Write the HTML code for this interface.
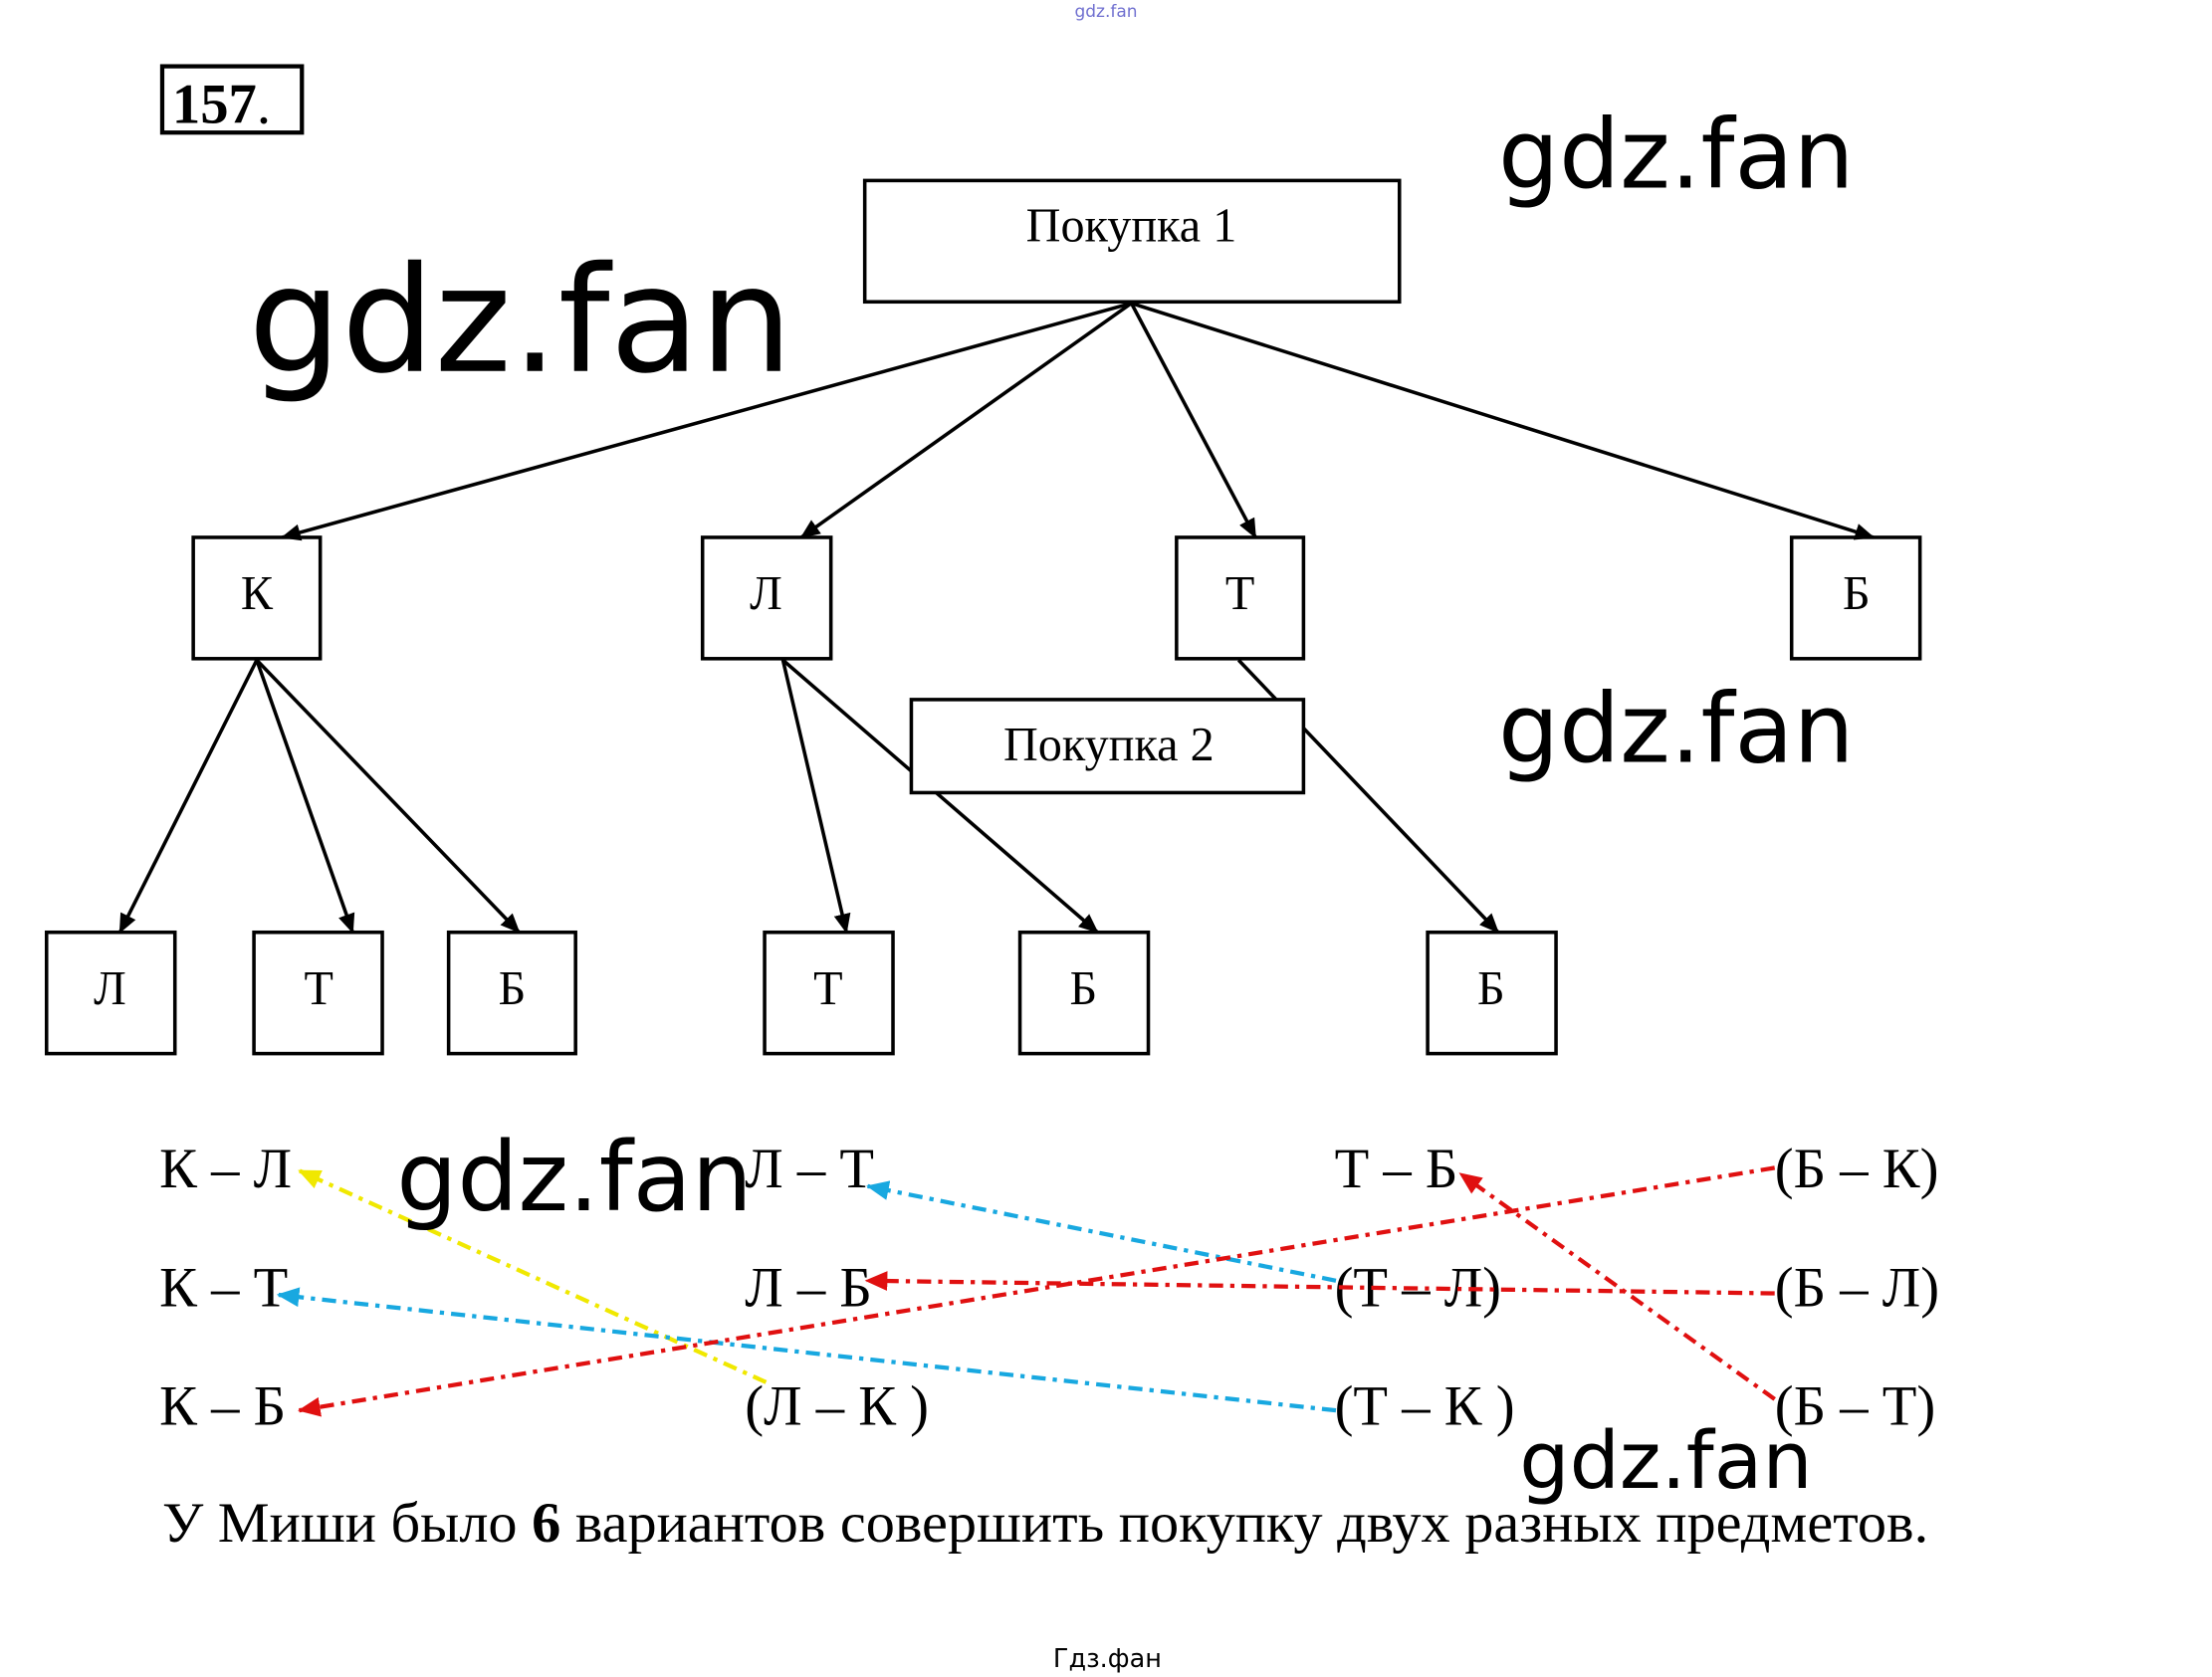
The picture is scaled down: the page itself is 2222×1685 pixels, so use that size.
<!DOCTYPE html>
<html><head><meta charset="utf-8"><style>
html,body{margin:0;padding:0;background:#fff;}
svg{display:block;}
.s{font-family:"Liberation Serif",serif;}
.w{font-family:"DejaVu Sans","Liberation Sans",sans-serif;}
</style></head><body>
<svg width="2222" height="1685" viewBox="0 0 1568 1189" preserveAspectRatio="none" xmlns="http://www.w3.org/2000/svg">
<defs>
<marker id="ab" markerWidth="14" markerHeight="14" refX="13" refY="7" orient="auto" markerUnits="userSpaceOnUse"><path d="M0,1 L14,7 L0,13 Z" fill="#000"/></marker>
<marker id="ar" markerWidth="16" markerHeight="14" refX="15" refY="7" orient="auto" markerUnits="userSpaceOnUse"><path d="M0,0 L16,7 L0,14 Z" fill="#e01010"/></marker>
<marker id="ac" markerWidth="16" markerHeight="14" refX="15" refY="7" orient="auto" markerUnits="userSpaceOnUse"><path d="M0,0 L16,7 L0,14 Z" fill="#18a8e0"/></marker>
<marker id="ay" markerWidth="16" markerHeight="14" refX="15" refY="7" orient="auto" markerUnits="userSpaceOnUse"><path d="M0,0 L16,7 L0,14 Z" fill="#f0e800"/></marker>
</defs>
<text x="784" y="12" font-size="12" fill="#7070d0" text-anchor="middle" class="w">gdz.fan</text>
<rect x="115" y="47" width="99" height="47" fill="none" stroke="#000" stroke-width="3"/>
<text x="122" y="87" font-size="40" font-weight="bold" class="s">157<tspan font-weight="normal">.</tspan></text>

<g fill="none" stroke="#000" stroke-width="2.5">
<rect x="613" y="128" width="379" height="86"/>
<rect x="137" y="381" width="90" height="86"/>
<rect x="498" y="381" width="91" height="86"/>
<rect x="834" y="381" width="90" height="86"/>
<rect x="1270" y="381" width="91" height="86"/>
<rect x="33" y="661" width="91" height="86"/>
<rect x="180" y="661" width="91" height="86"/>
<rect x="318" y="661" width="90" height="86"/>
<rect x="542" y="661" width="91" height="86"/>
<rect x="723" y="661" width="91" height="86"/>
<rect x="1012" y="661" width="91" height="86"/>
</g>
<g stroke="#000" stroke-width="2.5" marker-end="url(#ab)">
<line x1="802" y1="215" x2="200" y2="381"/>
<line x1="802" y1="215" x2="568" y2="381"/>
<line x1="802" y1="215" x2="890" y2="381"/>
<line x1="802" y1="215" x2="1328" y2="381"/>
<line x1="182" y1="468" x2="85" y2="661"/>
<line x1="182" y1="468" x2="250" y2="661"/>
<line x1="182" y1="468" x2="368" y2="661"/>
<line x1="555" y1="468" x2="600" y2="661"/>
<line x1="555" y1="468" x2="778" y2="661"/>
<line x1="878" y1="468" x2="1062" y2="661"/>
</g>
<rect x="646" y="496" width="278" height="66" fill="#fff" stroke="#000" stroke-width="2.5"/>
<g class="s" font-size="34" text-anchor="middle">
<text x="802" y="171">Покупка 1</text>
<text x="786" y="539">Покупка 2</text>
<text x="182" y="432">К</text><text x="543" y="432">Л</text><text x="879" y="432">Т</text><text x="1316" y="432">Б</text>
<text x="78" y="712">Л</text><text x="226" y="712">Т</text><text x="363" y="712">Б</text><text x="587" y="712">Т</text><text x="768" y="712">Б</text><text x="1057" y="712">Б</text>
</g>

<g class="s" font-size="40">
<text x="113" y="842">К – Л</text><text x="528" y="842">Л – Т</text><text x="946" y="842">Т – Б</text><text x="1258" y="842">(Б – К)</text>
<text x="113" y="926">К – Т</text><text x="528" y="926">Л – Б</text><text x="946" y="926">(Т – Л)</text><text x="1258" y="926">(Б – Л)</text>
<text x="113" y="1010">К – Б</text><text x="528" y="1010">(Л – К )</text><text x="946" y="1010">(Т – К )</text><text x="1258" y="1010">(Б – Т)</text>
<text x="115" y="1093" textLength="1252" lengthAdjust="spacingAndGlyphs">У Миши было <tspan font-weight="bold">6</tspan> вариантов совершить покупку двух разных предметов.</text>
</g>
<g stroke-width="3" stroke-dasharray="10,5,3,5" fill="none">
<line x1="543" y1="980" x2="212" y2="830" stroke="#f0e800" marker-end="url(#ay)"/>
<line x1="947" y1="908" x2="615" y2="841" stroke="#18a8e0" marker-end="url(#ac)"/>
<line x1="947" y1="1000" x2="197" y2="918" stroke="#18a8e0" marker-end="url(#ac)"/>
<line x1="1258" y1="828" x2="212" y2="1000" stroke="#e01010" marker-end="url(#ar)"/>
<line x1="1258" y1="917" x2="614" y2="908" stroke="#e01010" marker-end="url(#ar)"/>
<line x1="1258" y1="992" x2="1035" y2="832" stroke="#e01010" marker-end="url(#ar)"/>
</g>

<g class="w" fill="#000">
<text x="1062" y="133" font-size="68">gdz.fan</text>
<text x="176" y="263" font-size="104">gdz.fan</text>
<text x="1062" y="540" font-size="68">gdz.fan</text>
<text x="281" y="858" font-size="68">gdz.fan</text>
<text x="1077" y="1055" font-size="56">gdz.fan</text>
<text x="785" y="1182" font-size="18" text-anchor="middle">Гдз.фан</text>
</g>
</svg>
</body></html>
